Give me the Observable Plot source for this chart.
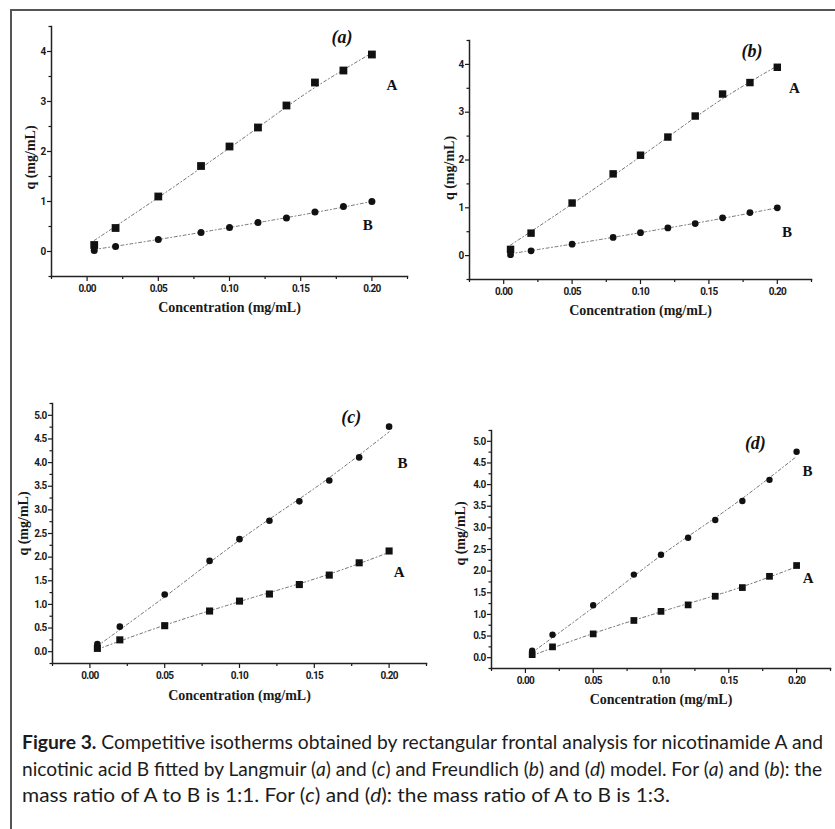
<!DOCTYPE html>
<html><head><meta charset="utf-8">
<script src="https://cdn.jsdelivr.net/npm/d3@7"></script>
<script src="https://cdn.jsdelivr.net/npm/@observablehq/plot@0.6"></script>
<style>
body{margin:0;background:#fff;width:835px;height:829px;overflow:hidden;position:relative;}
#frame{position:absolute;left:10px;top:9px;width:900px;height:900px;border-top:2px solid #555;border-left:2px solid #555;}
.panel{position:absolute;}
#caption{position:absolute;left:22px;top:729px;font-family:Lato,"Noto Sans",sans-serif;font-size:18.5px;line-height:26.5px;color:#1c1c1c;white-space:nowrap;}
#caption .ln{display:inline-block;transform-origin:0 50%;}
#caption b{font-weight:bold;}
g[aria-label="x-axis tick label"], g[aria-label="y-axis tick label"]{letter-spacing:-0.7px;}
</style></head><body>
<div id="frame"></div>
<div id="pa" class="panel" style="left:0px;top:0px"></div>
<div id="pb" class="panel" style="left:415px;top:0px"></div>
<div id="pc" class="panel" style="left:0px;top:380px"></div>
<div id="pd" class="panel" style="left:415px;top:380px"></div>
<div id="caption"><span class="ln" data-w="801"><b>Figure 3.</b> Competitive isotherms obtained by rectangular frontal analysis for nicotinamide A and</span><br><span class="ln" data-w="800">nicotinic acid B fitted by Langmuir (<i>a</i>) and (<i>c</i>) and Freundlich (<i>b</i>) and (<i>d</i>) model. For (<i>a</i>) and (<i>b</i>): the</span><br><span class="ln" data-w="648">mass ratio of A to B is 1:1. For (<i>c</i>) and (<i>d</i>): the mass ratio of A to B is 1:3.</span></div>
<script>
// ---- data ----
const conc = [0.005, 0.02, 0.05, 0.08, 0.10, 0.12, 0.14, 0.16, 0.18, 0.20];
const qA_11 = [0.13, 0.47, 1.10, 1.71, 2.10, 2.48, 2.92, 3.38, 3.62, 3.94];
const qB_11 = [0.02, 0.10, 0.24, 0.38, 0.48, 0.58, 0.67, 0.79, 0.90, 1.00];
const qA_13 = [0.07, 0.25, 0.55, 0.86, 1.07, 1.22, 1.42, 1.62, 1.88, 2.13];
const qB_13 = [0.16, 0.53, 1.21, 1.92, 2.38, 2.77, 3.18, 3.62, 4.11, 4.76];
const fitConc = [0.005, 0.05, 0.10, 0.16, 0.20];
const fitA_11 = [0.22, 1.08, 2.07, 3.28, 3.97];
const fitB_11 = [0.04, 0.24, 0.48, 0.78, 1.00];
const fitA_13 = [0.05, 0.56, 1.06, 1.64, 2.10];
const fitB_13 = [0.12, 1.16, 2.36, 3.68, 4.65];
const xMajor = [0, 0.05, 0.10, 0.15, 0.20];
const xMinor = [-0.025, 0.025, 0.075, 0.125, 0.175, 0.225];
const yMajor11 = [0, 1, 2, 3, 4];
const yMinor11 = [-0.5, 0.5, 1.5, 2.5, 3.5, 4.5];
const yMajor13 = [0, 0.5, 1, 1.5, 2, 2.5, 3, 3.5, 4, 4.5, 5];
const yMinor13 = [-0.25, 0.25, 0.75, 1.25, 1.75, 2.25, 2.75, 3.25, 3.75, 4.25, 4.75, 5.25];
const panelTags = ["(a)", "(b)", "(c)", "(d)"];
const seriesNames = ["A", "B"];
const xTitle = "Concentration (mg/mL)";
const yTitle = "q (mg/mL)";

const serif = "Liberation Serif, Times New Roman, serif";
const sansN = "Roboto, Liberation Sans, Arial, sans-serif";

function pts(ys, xs) { return xs.map((x, i) => ({x, y: ys[i]})); }

function panel(el, c) {
  const A = pts(c.qA, conc), B = pts(c.qB, conc);
  const fA = pts(c.fA, fitConc), fB = pts(c.fB, fitConc);
  const lineStyle = {x: "x", y: "y", stroke: "#666", strokeWidth: 0.9, strokeDasharray: "3,2.5,1,2.5", curve: "monotone-x"};
  const p = Plot.plot({
    width: c.w, height: c.h,
    marginLeft: c.ml, marginRight: c.mr, marginTop: c.mt, marginBottom: c.mb,
    x: {domain: [-0.025, 0.225]},
    y: {domain: c.yDomain},
    style: {background: "transparent", overflow: "visible", fontFamily: sansN, color: "#1a1a1a"},
    marks: [
      Plot.axisX({ticks: xMinor, tickSize: 3, tickFormat: () => "", label: null, strokeWidth: 1.2}),
      Plot.axisX({ticks: xMajor, tickSize: 5, tickPadding: 3, tickFormat: d3.format(".2f"), label: null, fontSize: 10, fontWeight: "bold", strokeWidth: 1.2}),
      Plot.axisY({ticks: c.yMinor, tickSize: 2.5, tickFormat: () => "", label: null, strokeWidth: 1.2}),
      Plot.axisY({ticks: c.yMajor, tickSize: 4, tickPadding: 2, tickFormat: c.yFmt, label: null, fontSize: 10, fontWeight: "bold", strokeWidth: 1.2}),
      Plot.frame({anchor: "bottom", stroke: "#222", strokeWidth: 1.5}),
      Plot.frame({anchor: "left", stroke: "#222", strokeWidth: 1.5}),
      Plot.line(fA, lineStyle),
      Plot.line(fB, lineStyle),
      Plot.dot(A, {x: "x", y: "y", symbol: "square", r: c.rs, fill: "#111", stroke: "none"}),
      Plot.dot(B, {x: "x", y: "y", symbol: "circle", r: c.rc, fill: "#111", stroke: "none"}),
      Plot.text([c.tag], {x: c.tagPos[0], y: c.tagPos[1], text: d => d, fontFamily: serif, fontStyle: "italic", fontWeight: "bold", fontSize: 18, fill: "#111"}),
      Plot.text([seriesNames[0]], {x: c.aPos[0], y: c.aPos[1], text: d => d, fontFamily: serif, fontWeight: "bold", fontSize: 15, fill: "#111"}),
      Plot.text([seriesNames[1]], {x: c.bPos[0], y: c.bPos[1], text: d => d, fontFamily: serif, fontWeight: "bold", fontSize: 15, fill: "#111"}),
      Plot.text([xTitle], {frameAnchor: "bottom", textAnchor: "middle", lineAnchor: "middle", dy: c.xTitleDy, text: d => d, fontFamily: serif, fontWeight: "bold", fontSize: 14, fill: "#1a1a1a"}),
      Plot.text([yTitle], {frameAnchor: "left", textAnchor: "middle", lineAnchor: "middle", dx: c.yTitleDx, dy: c.yTitleDy, rotate: -90, text: d => d, fontFamily: serif, fontWeight: "bold", fontSize: 14, fill: "#1a1a1a"})
    ]
  });
  document.getElementById(el).appendChild(p);
}

const fmt0 = d3.format("d"), fmt1 = d3.format(".1f");
panel("pa", {w: 420, h: 330, ml: 51, mr: 13, mt: 26, mb: 54, yDomain: [-0.5, 4.5],
  qA: qA_11, qB: qB_11, fA: fitA_11, fB: fitB_11, yMajor: yMajor11, yMinor: yMinor11, yFmt: fmt0,
  rs: 4.4, rc: 3.5, tag: panelTags[0], tagPos: [0.179, 4.29], aPos: [0.214, 3.33], bPos: [0.197, 0.53],
  xTitleDy: 31, yTitleDx: -21, yTitleDy: 6});
panel("pb", {w: 420, h: 330, ml: 54, mr: 24, mt: 40, mb: 51, yDomain: [-0.5, 4.5],
  qA: qA_11, qB: qB_11, fA: fitA_11, fB: fitB_11, yMajor: yMajor11, yMinor: yMinor11, yFmt: fmt0,
  rs: 4.2, rc: 3.4, tag: panelTags[1], tagPos: [0.1815, 4.28], aPos: [0.2125, 3.51], bPos: [0.207, 0.49],
  xTitleDy: 31, yTitleDx: -20, yTitleDy: 8});
panel("pc", {w: 440, h: 340, ml: 52, mr: 14, mt: 23, mb: 57, yDomain: [-0.25, 5.25],
  qA: qA_13, qB: qB_13, fA: fitA_13, fB: fitB_13, yMajor: yMajor13, yMinor: yMinor13, yFmt: fmt1,
  rs: 4.0, rc: 3.3, tag: panelTags[2], tagPos: [0.1747, 4.95], aPos: [0.2067, 1.69], bPos: [0.2089, 3.98],
  xTitleDy: 32, yTitleDx: -29, yTitleDy: -10});
panel("pd", {w: 420, h: 340, ml: 76, mr: 5, mt: 50, mb: 52, yDomain: [-0.25, 5.25],
  qA: qA_13, qB: qB_13, fA: fitA_13, fB: fitB_13, yMajor: yMajor13, yMinor: yMinor13, yFmt: fmt1,
  rs: 3.8, rc: 3.2, tag: panelTags[3], tagPos: [0.1696, 4.96], aPos: [0.2086, 1.83], bPos: [0.208, 4.31],
  xTitleDy: 31, yTitleDx: -31, yTitleDy: -16});

function fitCaption() {
  document.querySelectorAll("#caption .ln").forEach(el => {
    el.style.transform = "none";
    const w = el.getBoundingClientRect().width;
    el.style.transform = "scaleX(" + (+el.dataset.w / w) + ")";
  });
}
fitCaption();
if (document.fonts && document.fonts.ready) document.fonts.ready.then(fitCaption);
</script>
</body></html>
